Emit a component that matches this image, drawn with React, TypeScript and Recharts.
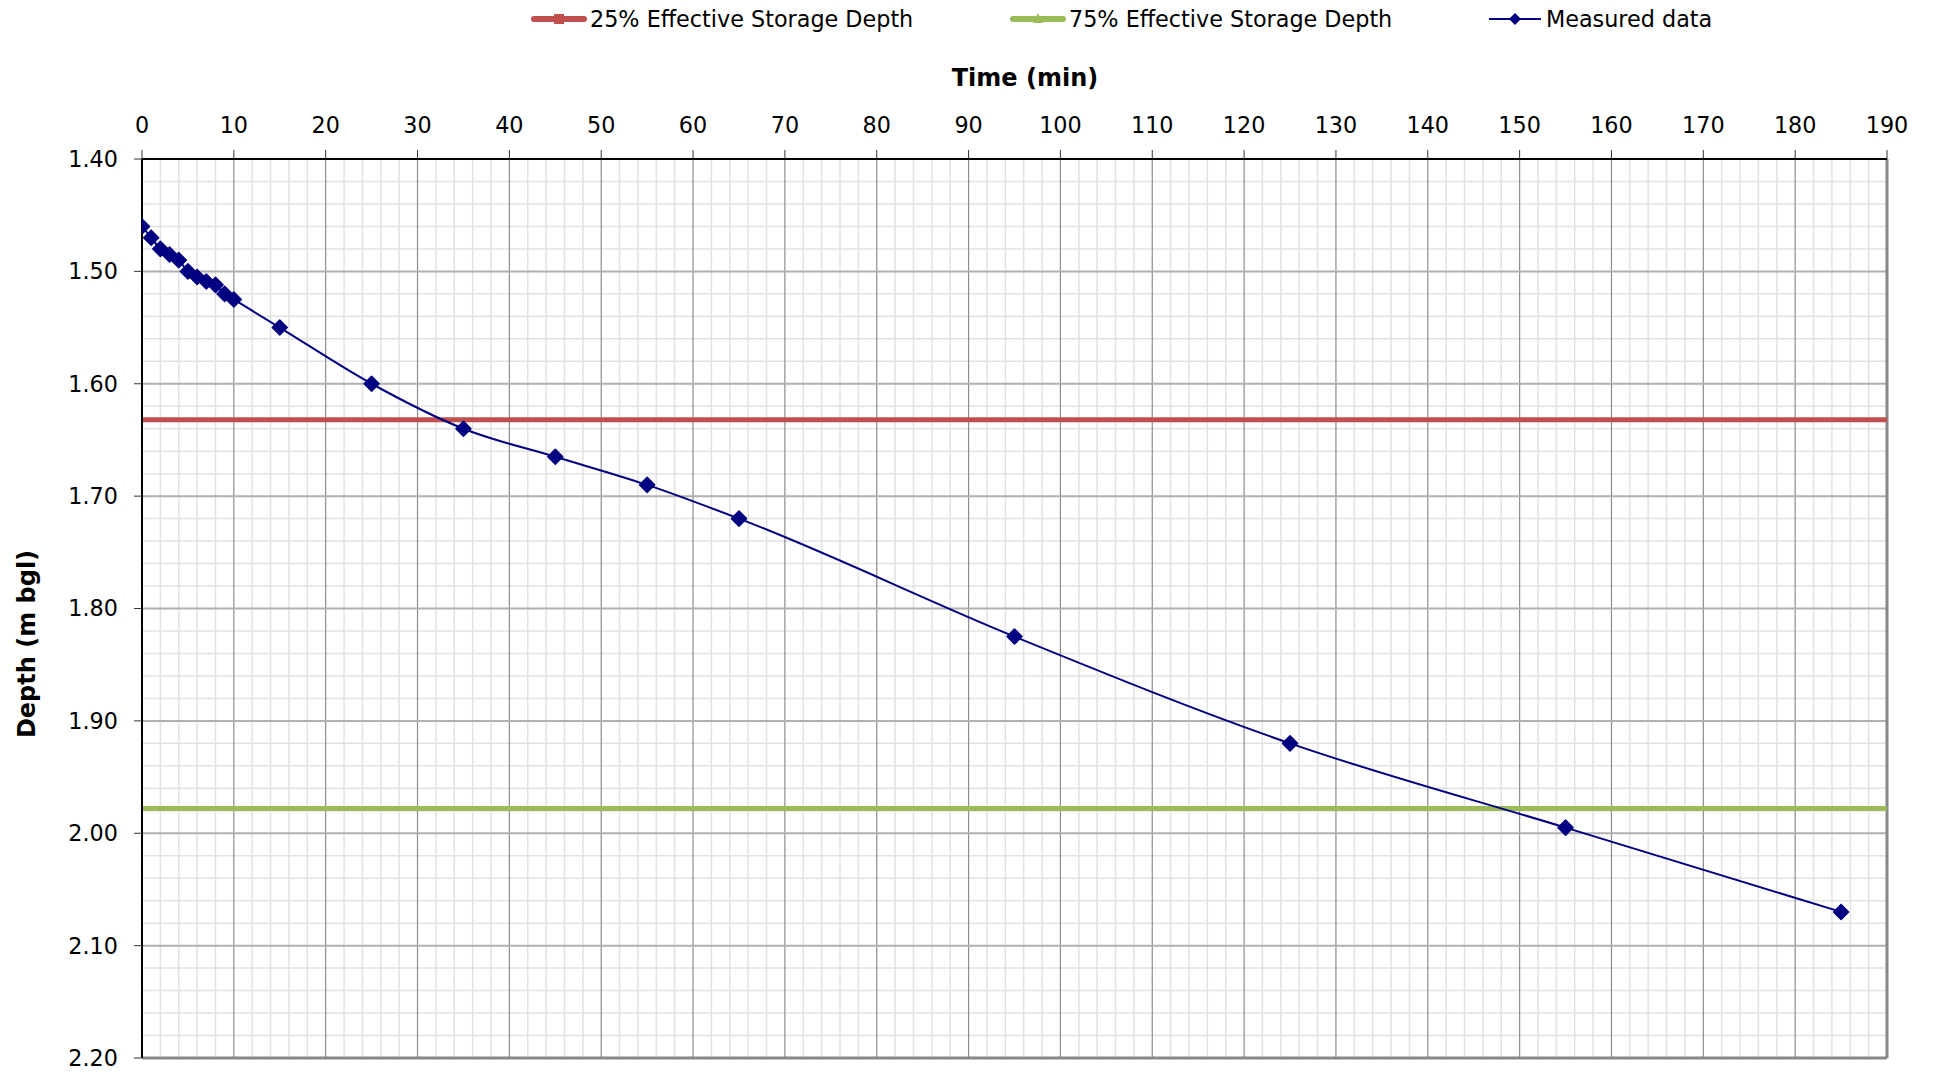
import React from 'react';
import { LineChart, Line, XAxis, YAxis, ReferenceLine } from 'recharts';

// ---- data ----
const TIMES = [0, 1, 2, 3, 4, 5, 6, 7, 8, 9, 10, 15, 25, 35, 45, 55, 65, 95, 125, 155, 185];
const DEPTHS = [1.46, 1.47, 1.48, 1.485, 1.49, 1.5, 1.505, 1.509, 1.512, 1.52, 1.525, 1.55, 1.6, 1.64, 1.665, 1.69, 1.72, 1.825, 1.92, 1.995, 2.07];
const DEPTH_25 = 1.632;
const DEPTH_75 = 1.978;
const LINE_SPAN = [0, 190];
const X_TICKS = [0, 10, 20, 30, 40, 50, 60, 70, 80, 90, 100, 110, 120, 130, 140, 150, 160, 170, 180, 190];
const Y_TICKS = [1.4, 1.5, 1.6, 1.7, 1.8, 1.9, 2.0, 2.1, 2.2];
const SERIES_NAMES = ['25% Effective Storage Depth', '75% Effective Storage Depth', 'Measured data'];

const measured = TIMES.map((t, i) => ({ t, d: DEPTHS[i] }));
const storage25 = LINE_SPAN.map((t) => ({ t, d: DEPTH_25 }));
const storage75 = LINE_SPAN.map((t) => ({ t, d: DEPTH_75 }));

// minor grid positions (every 2 min, every 0.02 m), skipping majors
const MINOR_X: number[] = [];
for (let v = 0; v <= 190; v += 2) if (v % 10 !== 0) MINOR_X.push(v);
const MINOR_Y: number[] = [];
for (let k = 140; k <= 220; k += 2) if (k % 10 !== 0) MINOR_Y.push(k / 100);

const FONT = '"DejaVu Sans", Verdana, sans-serif';
const NAVY = '#000080';
const RED = '#C0504D';
const GREEN = '#9BBB59';

const Diamond = (props: any) => {
  const { cx, cy, index } = props;
  if (cx == null || cy == null) return <g key={index} />;
  const r = 7.5;
  return (
    <polygon
      key={index}
      points={`${cx},${cy - r} ${cx + r},${cy} ${cx},${cy + r} ${cx - r},${cy}`}
      fill={NAVY}
      stroke={NAVY}
      strokeWidth={1.5}
      strokeLinejoin="round"
    />
  );
};

const LegendIcon = ({ kind }: { kind: number }) => {
  if (kind === 0)
    return (
      <svg width={56} height={20}>
        <line x1={3} y1={10} x2={53} y2={10} stroke={RED} strokeWidth={6} strokeLinecap="round" />
        <rect x={23} y={5} width={10} height={10} fill={RED} />
      </svg>
    );
  if (kind === 1)
    return (
      <svg width={56} height={20}>
        <line x1={3} y1={10} x2={53} y2={10} stroke={GREEN} strokeWidth={6} strokeLinecap="round" />
        <polygon points="28,4 33,14 23,14" fill={GREEN} />
      </svg>
    );
  return (
    <svg width={56} height={20}>
      <line x1={2} y1={10} x2={54} y2={10} stroke={NAVY} strokeWidth={2} />
      <polygon points="28,4 34,10 28,16 22,10" fill={NAVY} />
    </svg>
  );
};

const LEGEND_X = [531, 1010, 1487];

export default function App() {
  return (
    <div style={{ position: 'absolute', left: 0, top: 0, width: 1935, height: 1074, background: '#fff', fontFamily: FONT }}>
      {SERIES_NAMES.map((name, i) => (
        <div
          key={name}
          style={{ position: 'absolute', left: LEGEND_X[i], top: 7, height: 24, display: 'flex', alignItems: 'center', whiteSpace: 'nowrap' }}
        >
          <LegendIcon kind={i} />
          <span style={{ fontSize: 22.3, lineHeight: '24px', color: '#000', marginLeft: 3 }}>{name}</span>
        </div>
      ))}
      <div
        style={{ position: 'absolute', left: 875, width: 300, top: 66, fontSize: 24, lineHeight: '24px', fontWeight: 'bold', textAlign: 'center', color: '#000' }}
      >
        Time (min)
      </div>
      <div
        style={{ position: 'absolute', left: 27 - 150, top: 644 - 15, width: 300, height: 30, fontSize: 24, lineHeight: '30px', fontWeight: 'bold', textAlign: 'center', color: '#000', transform: 'rotate(-90deg)' }}
      >
        Depth (m bgl)
      </div>
      <div style={{ position: 'absolute', left: 0, top: 0 }}>
        <LineChart width={1935} height={1074} margin={{ top: 99, right: 48, bottom: 16, left: 42 }}>
          <XAxis
            type="number"
            dataKey="t"
            orientation="top"
            height={60}
            domain={[0, 190]}
            ticks={X_TICKS}
            interval={0}
            allowDataOverflow
            axisLine={{ stroke: '#000', strokeWidth: 2 }}
            tickLine={{ stroke: '#333', strokeWidth: 1 }}
            tickSize={9}
            tickMargin={17}
            tick={{ fontSize: 22.3, fill: '#000', fontFamily: FONT }}
          />
          <YAxis
            type="number"
            dataKey="d"
            reversed
            width={100}
            domain={[1.4, 2.2]}
            ticks={Y_TICKS}
            interval={0}
            allowDataOverflow
            tickFormatter={(v: number) => v.toFixed(2)}
            axisLine={{ stroke: '#000', strokeWidth: 2 }}
            tickLine={{ stroke: '#333', strokeWidth: 1 }}
            tickSize={8}
            tickMargin={16}
            tick={{ fontSize: 22.3, fill: '#000', fontFamily: FONT }}
          />
          {MINOR_X.map((v) => (
            <ReferenceLine key={'mx' + v} x={v} stroke="#e2e2e2" strokeWidth={1.5} />
          ))}
          {MINOR_Y.map((v) => (
            <ReferenceLine key={'my' + v} y={v} stroke="#e2e2e2" strokeWidth={1.5} />
          ))}
          {X_TICKS.slice(1, -1).map((v) => (
            <ReferenceLine key={'Mx' + v} x={v} stroke="#8c8c8c" strokeWidth={1.2} />
          ))}
          {Y_TICKS.slice(1, -1).map((v) => (
            <ReferenceLine key={'My' + v} y={v} stroke="#b0b0b0" strokeWidth={2} />
          ))}
          <ReferenceLine x={190} stroke="#888" strokeWidth={3} />
          <ReferenceLine y={2.2} stroke="#888" strokeWidth={3} />
          <Line
            data={storage25}
            dataKey="d"
            name={SERIES_NAMES[0]}
            stroke={RED}
            strokeWidth={5}
            dot={false}
            isAnimationActive={false}
            type="linear"
          />
          <Line
            data={storage75}
            dataKey="d"
            name={SERIES_NAMES[1]}
            stroke={GREEN}
            strokeWidth={5}
            dot={false}
            isAnimationActive={false}
            type="linear"
          />
          <Line
            data={measured}
            dataKey="d"
            name={SERIES_NAMES[2]}
            stroke={NAVY}
            strokeWidth={2}
            type="monotone"
            dot={Diamond}
            activeDot={false}
            isAnimationActive={false}
          />
        </LineChart>
      </div>
    </div>
  );
}
